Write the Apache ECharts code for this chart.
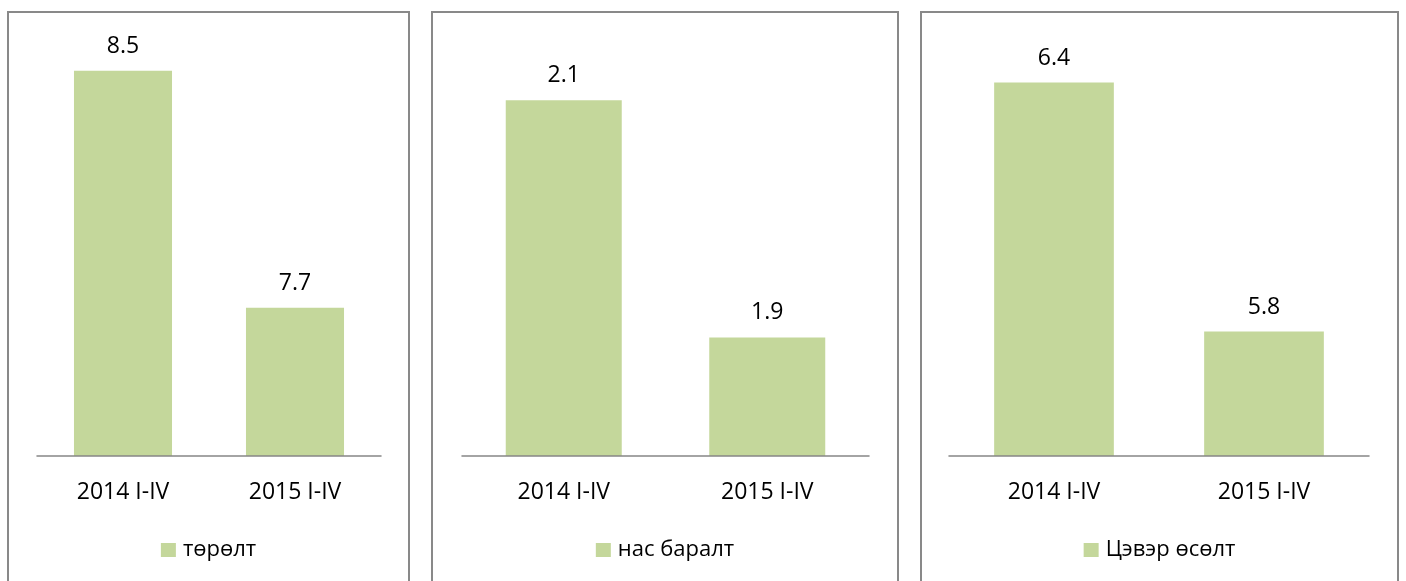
<!DOCTYPE html>
<html>
<head>
<meta charset="utf-8">
<script src="https://cdn.jsdelivr.net/npm/echarts@6.0.0/dist/echarts.min.js"></script>
<style>
  html, body { margin: 0; padding: 0; background: #ffffff; overflow: hidden; }
  body { width: 1406px; height: 581px; position: relative; }
  .panel_wrap {
    position: absolute;
    top: 11px;
    height: 620px;
    border: 2px solid #898989;
    box-sizing: border-box;
    background: #ffffff;
  }
  .panel_chart { width: 100%; height: 100%; }
</style>
</head>
<body>
  <div class="panel_wrap" style="left: 7px; width: 403px;"><div class="panel_chart" id="birthEl"></div></div>
  <div class="panel_wrap" style="left: 431px; width: 468px;"><div class="panel_chart" id="deathEl"></div></div>
  <div class="panel_wrap" style="left: 920px; width: 479px;"><div class="panel_chart" id="netEl"></div></div>

<script>
// data
const categories = ["2014 I-IV", "2015 I-IV"]
const birthName = "төрөлт"
const birthValues = [8.5, 7.7]
const deathName = "нас баралт"
const deathValues = [2.1, 1.9]
const netName = "Цэвэр өсөлт"
const netValues = [6.4, 5.8]

const barColor = "#C4D79B"
const fontName = "Open Sans"

// 单个面板图表初始化
const panelChartInit = (elId, name, values, yMin, yMax, gridLeft, gridWidth) => {
  let chart = echarts.init(document.getElementById(elId), null, { renderer: "canvas" })

  let option = {
    backgroundColor: "transparent",
    animation: false,
    legend: {
      data: [name],
      left: "center",
      top: 521,
      icon: "rect",
      itemWidth: 15,
      itemHeight: 14,
      textStyle: {
        fontFamily: fontName,
        fontSize: 22,
        color: "#000000",
        padding: [0, 0, 0, 2]
      }
    },
    grid: {
      left: gridLeft,
      width: gridWidth,
      top: 28,
      height: 415
    },
    xAxis: {
      type: "category",
      data: categories,
      z: 5,
      axisLine: {
        show: true,
        lineStyle: { color: "#868686", width: 1.5 }
      },
      axisTick: { show: false },
      axisLabel: {
        margin: 25,
        fontFamily: fontName,
        fontSize: 23,
        color: "#000000"
      }
    },
    yAxis: {
      type: "value",
      min: yMin,
      max: yMax,
      show: false,
      splitLine: { show: false }
    },
    series: [
      {
        name: name,
        type: "bar",
        data: values,
        barWidth: "57%",
        itemStyle: { color: barColor },
        label: {
          show: true,
          position: "top",
          distance: 13,
          fontFamily: fontName,
          fontSize: 23,
          color: "#000000",
          formatter: (p) => p.value.toFixed(1)
        }
      }
    ]
  }

  chart.setOption(option)
}

panelChartInit("birthEl", birthName, birthValues, 7.2, 8.6, 28, 344)
panelChartInit("deathEl", deathName, deathValues, 1.8, 2.15, 29, 407)
panelChartInit("netEl", netName, netValues, 5.5, 6.5, 27, 420)
</script>
</body>
</html>
